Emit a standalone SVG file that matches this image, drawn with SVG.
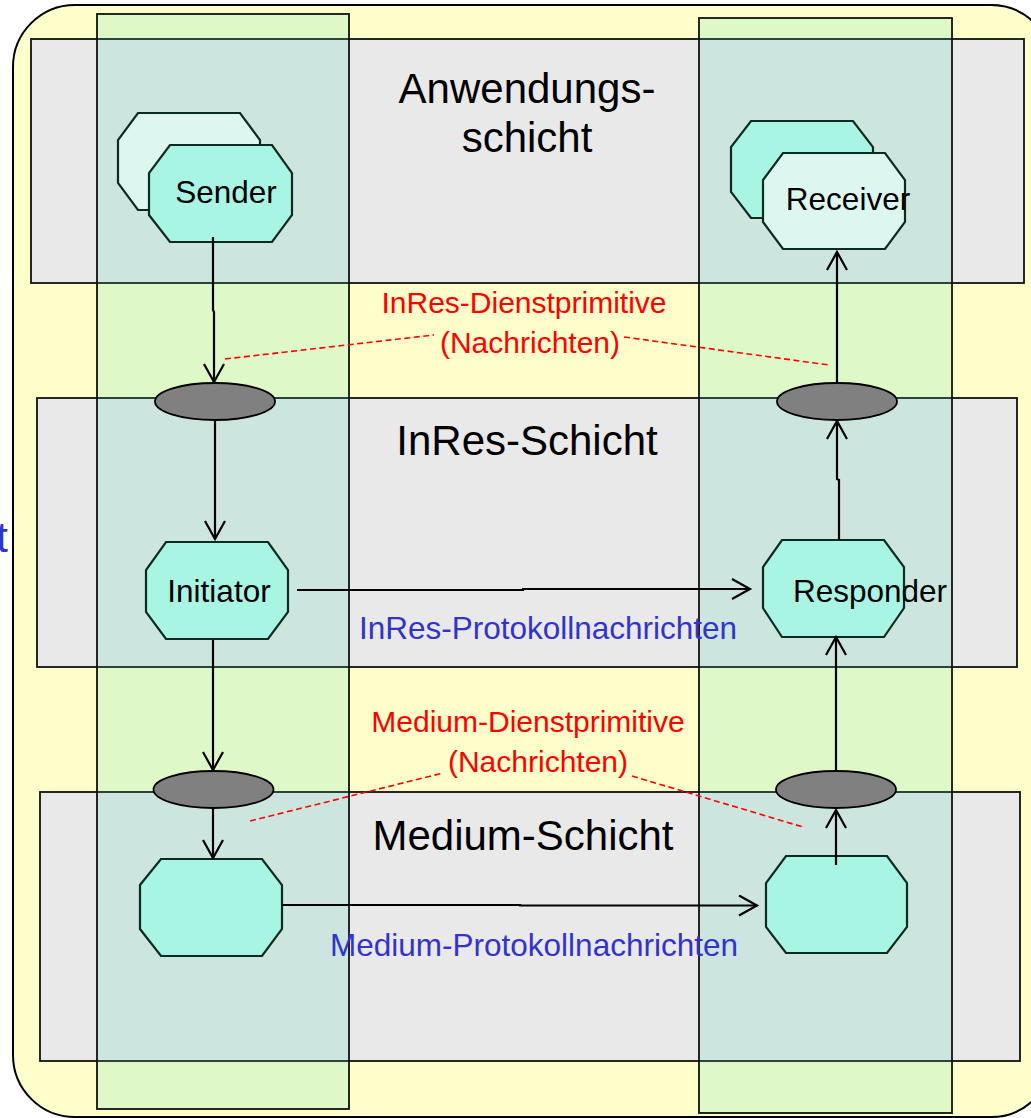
<svg xmlns="http://www.w3.org/2000/svg" width="1031" height="1118" viewBox="0 0 1031 1118">
<style>
.layer{fill:#E9E9E9;stroke:#111;stroke-width:1.8}
.col{fill:#43D5B4;fill-opacity:0.17;stroke:#111;stroke-width:1.8}
.oct{fill:#A8F5E3;stroke:#0D2A22;stroke-width:2.2}
.octl{fill:#DDF7F0;stroke:#0D2A22;stroke-width:2.2}
.port{fill:#808080;stroke:#000;stroke-width:1.8}
.big{font-family:"Liberation Sans",Arial,sans-serif;font-size:42px;fill:#000;text-anchor:middle}
.lbl{font-family:"Liberation Sans",Arial,sans-serif;font-size:31.5px;fill:#000;text-anchor:middle}
.red{font-family:"Liberation Sans",Arial,sans-serif;font-size:30px;fill:#FF0000;text-anchor:middle}
.blue{font-family:"Liberation Sans",Arial,sans-serif;font-size:31.5px;fill:#3333CC;text-anchor:middle}
.conn{fill:none;stroke:#000;stroke-width:2.2;marker-end:url(#arr)}
.dash{fill:none;stroke:#FF0000;stroke-width:1.6;stroke-dasharray:6,3.5}
</style>
<defs>
<marker id="arr" markerUnits="userSpaceOnUse" markerWidth="22" markerHeight="24" refX="19" refY="11" orient="auto" viewBox="0 0 22 24">
<path d="M1,1 L19,11 L1,21" fill="none" stroke="#000" stroke-width="2.2"/>
</marker>
</defs>
<g id="background">
<rect x="13" y="5" width="1040" height="1112" rx="62" ry="62" fill="#FFFFCC" stroke="#000" stroke-width="2"/>
<text x="8" y="552" font-family="Liberation Sans,Arial,sans-serif" font-size="42" fill="#3333CC" text-anchor="end">t</text>
</g>
<g id="layers">
<g id="layer-anwendung"><rect class="layer" x="31" y="39" width="993" height="244"/></g>
<g id="layer-inres"><rect class="layer" x="37" y="398" width="980" height="269"/></g>
<g id="layer-medium"><rect class="layer" x="40" y="792" width="980" height="269"/></g>
</g>
<g id="columns">
<rect class="col" x="97" y="14" width="252" height="1095"/>
<rect class="col" x="699" y="18" width="253" height="1095"/>
</g>
<g id="layer-labels">
<text class="big" x="527" y="103">Anwendungs-</text>
<text class="big" x="527" y="152">schicht</text>
<text class="big" x="527" y="455">InRes-Schicht</text>
<text class="big" x="523" y="850">Medium-Schicht</text>
</g>
<g id="sender">
<polygon class="octl" points="138,113 240,113 260,140 260,183 240,210 138,210 118,183 118,140"/>
<polygon class="oct" points="170,145 272,145 292,173 292,215 272,242 170,242 149,215 149,173"/>
<text class="lbl" x="226" y="203">Sender</text>
</g>
<g id="receiver">
<polygon class="oct" points="751,121 853,121 873,147 873,192 853,218 751,218 731,192 731,147"/>
<polygon class="octl" points="783,153 885,153 905,180 905,222 885,249 783,249 763,222 763,180"/>
<text class="lbl" x="848" y="210">Receiver</text>
</g>
<g id="initiator">
<polygon class="oct" points="166,542 268,542 288,570 288,612 268,639 166,639 146,612 146,570"/>
<text class="lbl" x="219" y="602">Initiator</text>
</g>
<g id="responder">
<polygon class="oct" points="782,540 884,540 904,567 904,608 884,637 782,637 763,608 763,567"/>
<text class="lbl" x="870" y="602">Responder</text>
</g>
<g id="medium-left">
<polygon class="oct" points="161,859 262,859 282,885 282,929 262,956 161,956 140,929 140,885"/>
</g>
<g id="medium-right">
<polygon class="oct" points="786,856 887,856 907,883 907,927 887,953 786,953 766,927 766,883"/>
</g>
<g id="sap-inres-left"><ellipse class="port" cx="215" cy="401.5" rx="60" ry="18.5"/></g>
<g id="sap-inres-right"><ellipse class="port" cx="837" cy="401.5" rx="60" ry="18.5"/></g>
<g id="sap-medium-left"><ellipse class="port" cx="213.5" cy="789.5" rx="60" ry="18.5"/></g>
<g id="sap-medium-right"><ellipse class="port" cx="836" cy="789.5" rx="60" ry="18.5"/></g>
<g id="connectors">
<path class="conn" d="M213,237 L213,310 L214,312 L214,382"/>
<path class="conn" d="M215,420 L215,480 L215,539"/>
<path class="conn" d="M297,590 L523,590 L523,589 L750,589"/>
<path class="conn" d="M213,640 L213,770"/>
<path class="conn" d="M213,808 L213,834 L213,858"/>
<path class="conn" d="M282,905 L520,905 L520,905.5 L757,905.5"/>
<path class="conn" d="M836,865 L836,810"/>
<path class="conn" d="M836,771 L836,637"/>
<path class="conn" d="M839,540 L839,480 L837,479 L837,421"/>
<path class="conn" d="M837,383 L837,252"/>
<path class="dash" d="M225,359 L434,335"/>
<path class="dash" d="M624,337 L829,365"/>
<path class="dash" d="M250,821 L443,773"/>
<path class="dash" d="M632,776 L803,827"/>
</g>
<g id="message-labels">
<text class="red" x="524" y="313">InRes-Dienstprimitive</text>
<text class="red" x="530" y="353">(Nachrichten)</text>
<text class="red" x="528" y="732">Medium-Dienstprimitive</text>
<text class="red" x="538" y="772">(Nachrichten)</text>
<text class="blue" x="548" y="639">InRes-Protokollnachrichten</text>
<text class="blue" x="534" y="956">Medium-Protokollnachrichten</text>
</g>
</svg>
